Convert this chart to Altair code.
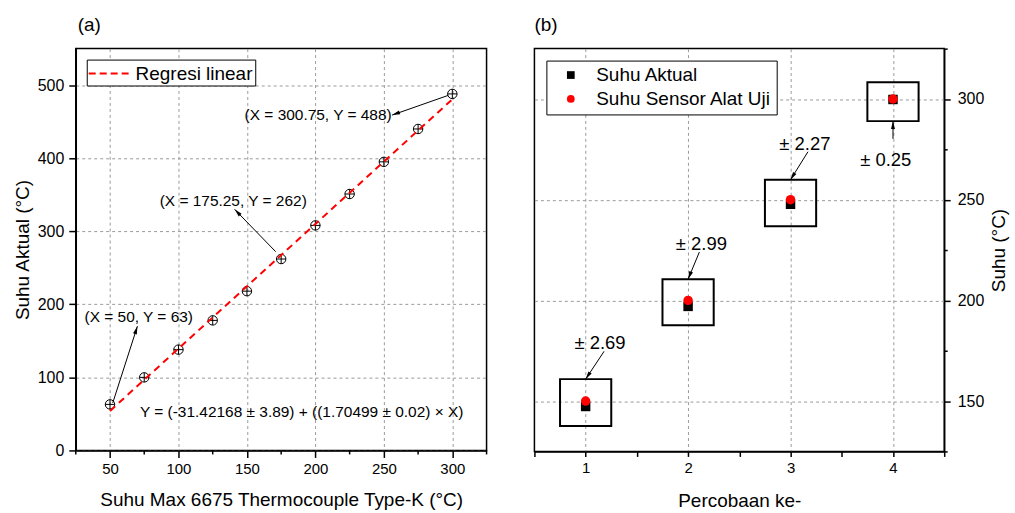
import math
import altair as alt
import pandas as pd

FONT = "Liberation Sans"

# ---------------- Panel (a) data ----------------
max6675 = [50, 75, 100, 125, 150, 175, 200, 225, 250, 275, 300]
aktual = [63, 100, 138, 178, 218, 262, 308, 351, 395, 440, 488]

x_major_a = [50, 100, 150, 200, 250, 300]
x_minor_a = [25, 75, 125, 175, 225, 275, 325]

ann_a_text = ["(X = 50, Y = 63)", "(X = 175.25, Y = 262)", "(X = 300.75, Y = 488)"]
ann_a_tx = [71, 140, 202]
ann_a_ty = [183, 341, 459]
arrow_a_tail_x = [52, 171, 297]
arrow_a_tail_y = [65, 272, 486]
arrow_a_head_x = [70, 141, 256]
arrow_a_head_y = [170, 330, 459]

equation_text = ["Y = (-31.42168 \u00b1 3.89) + ((1.70499 \u00b1 0.02) \u00d7 X)"]
equation_x = [190]
equation_y = [52]

# ---------------- Panel (b) data ----------------
percobaan = [1, 2, 3, 4]
suhu_aktual = [147.31, 197.01, 247.73, 299.75]
suhu_sensor = [150, 200, 250, 300]
selisih = ["\u00b1 2.69", "\u00b1 2.99", "\u00b1 2.27", "\u00b1 0.25"]
box_x_lo = [0.75, 1.75, 2.75, 3.75]
box_x_hi = [1.25, 2.25, 3.25, 4.25]
box_lo = [137.6, 187.6, 236.8, 289.0]
box_hi = [160.9, 210.5, 259.9, 308.3]
label_b_x = [1.14, 2.13, 3.14, 3.93]
label_b_y = [178.7, 228.2, 277.7, 269.8]
arrow_b_tail_x = [1.18, 2.11, 3.17, 4.0]
arrow_b_tail_y = [174.7, 224.0, 273.8, 280.2]
arrow_b_head_x = [1.0, 2.0, 3.0, 4.0]
arrow_b_head_y = [160.9, 210.5, 259.9, 289.0]

# ---------------- layout ----------------
WA, HA = 412, 403
WB, HB = 411, 404
XA_DOM, YA_DOM = [25, 325], [0, 550]
XB_DOM, YB_DOM = [0.5, 4.5], [125, 325]

PLUS_CIRCLE = "M-1,0A1,1,0,1,1,1,0A1,1,0,1,1,-1,0M-1,0L1,0M0,-1L0,1"
ARROW_HEAD = "M0,0L-0.5,2L0.5,2Z"
LEGEND_LINE = "M-2,0L2,0"


def head_angles(tx, ty, hx, hy, sx, sy):
    out = []
    for a, b, c, d in zip(tx, ty, hx, hy):
        out.append((math.degrees(math.atan2((c - a) * sx, (d - b) * sy)) + 360) % 360)
    return out


GRID = dict(gridColor="#9a9a9a", gridDash=[3, 3], gridWidth=1)

# ---------------- Panel (a) ----------------
df_a = pd.DataFrame({"x": max6675, "y": aktual})
xa = alt.Scale(domain=XA_DOM, nice=False, zero=False)
ya = alt.Scale(domain=YA_DOM, nice=False)

x_axis_a = alt.Axis(
    values=x_major_a, format="d",
    tickSize=7, grid=True,
    title="Suhu Max 6675 Thermocouple Type-K (\u00b0C)",
    labelFontSize=15, titleFontSize=19, labelPadding=4, titlePadding=14,
    **GRID,
)
y_axis_a = alt.Axis(
    values=list(range(0, 551, 50)),
    labelExpr="datum.value % 100 === 0 ? datum.label : ''",
    labelOverlap=False,
    tickSize={"condition": {"test": "datum.value % 100 === 0", "value": 7}, "value": 4},
    gridOpacity={"condition": {"test": "datum.value % 100 === 0", "value": 1}, "value": 0},
    title="Suhu Aktual (\u00b0C)",
    labelFontSize=16, titleFontSize=19, labelPadding=5, titlePadding=5,
    **GRID,
)

points_a = alt.Chart(df_a).mark_point(
    shape=PLUS_CIRCLE, filled=False, stroke="black", strokeWidth=1, size=90, opacity=1
).encode(
    x=alt.X("x:Q", scale=xa, axis=x_axis_a),
    y=alt.Y("y:Q", scale=ya, axis=y_axis_a),
)

minor_a = alt.Chart(pd.DataFrame({"m": x_minor_a})).mark_rule(
    color="black", strokeWidth=1.5
).encode(
    x=alt.X("m:Q", scale=xa), y=alt.value(HA), y2=alt.value(HA + 4)
)

fit_a = alt.Chart(df_a).transform_regression(
    "x", "y", extent=[50, 300]
).transform_calculate(
    series="'Regresi linear'"
).mark_line(strokeDash=[7, 5], strokeWidth=2).encode(
    x=alt.X("x:Q", scale=xa),
    y=alt.Y("y:Q", scale=ya),
    color=alt.Color(
        "series:N",
        scale=alt.Scale(domain=["Regresi linear"], range=["#ff0000"]),
        legend=alt.Legend(
            title=None, orient="top-left", offset=11,
            symbolType=LEGEND_LINE, symbolDash=[7, 4], symbolStrokeWidth=2, symbolSize=484,
            symbolOffset=10,
            labelFont=FONT, labelFontSize=19, labelColor="black", labelOffset=13,
            strokeColor="black", fillColor="white", padding=2,
        ),
    ),
)

sxa = WA / (XA_DOM[1] - XA_DOM[0])
sya = HA / (YA_DOM[1] - YA_DOM[0])
df_arr_a = pd.DataFrame({
    "tx": arrow_a_tail_x, "ty": arrow_a_tail_y,
    "hx": arrow_a_head_x, "hy": arrow_a_head_y,
    "ang": head_angles(arrow_a_tail_x, arrow_a_tail_y, arrow_a_head_x, arrow_a_head_y, sxa, sya),
})
rules_a = alt.Chart(df_arr_a).mark_rule(color="black", strokeWidth=1).encode(
    x=alt.X("tx:Q", scale=xa), y=alt.Y("ty:Q", scale=ya), x2="hx:Q", y2="hy:Q"
)
heads_a = alt.Chart(df_arr_a).mark_point(
    shape=ARROW_HEAD, filled=True, color="black", size=64, opacity=1, strokeWidth=0
).encode(
    x=alt.X("hx:Q", scale=xa), y=alt.Y("hy:Q", scale=ya),
    angle=alt.Angle("ang:Q", scale=None),
)

df_ann_a = pd.DataFrame({"t": ann_a_text, "x": ann_a_tx, "y": ann_a_ty})
text_a = alt.Chart(df_ann_a).mark_text(font=FONT, fontSize=15.5, color="black").encode(
    x=alt.X("x:Q", scale=xa), y=alt.Y("y:Q", scale=ya), text="t:N"
)
df_eq = pd.DataFrame({"t": equation_text, "x": equation_x, "y": equation_y})
eq_a = alt.Chart(df_eq).mark_text(font=FONT, fontSize=15.5, color="black").encode(
    x=alt.X("x:Q", scale=xa), y=alt.Y("y:Q", scale=ya), text="t:N"
)
tag_a = alt.Chart(pd.DataFrame({"t": ["(a)"]})).mark_text(
    font=FONT, fontSize=19, color="black", align="left", baseline="middle"
).encode(x=alt.value(2), y=alt.value(-24), text="t:N")

panel_a = alt.layer(
    points_a, fit_a, minor_a, rules_a, heads_a, text_a, eq_a, tag_a
).properties(width=WA, height=HA)

# ---------------- Panel (b) ----------------
xb = alt.Scale(domain=XB_DOM, nice=False, zero=False)
yb = alt.Scale(domain=YB_DOM, nice=False, zero=False)

x_axis_b = alt.Axis(
    values=[0.5, 1, 1.5, 2, 2.5, 3, 3.5, 4, 4.5],
    labelExpr="datum.value % 1 === 0 ? format(datum.value, 'd') : ''",
    labelOverlap=False,
    tickSize=5,
    gridOpacity={"condition": {"test": "datum.value % 1 === 0", "value": 1}, "value": 0},
    title="Percobaan ke-",
    labelFontSize=15, titleFontSize=19, labelPadding=4, titlePadding=16,
    **GRID,
)
y_axis_b = alt.Axis(
    orient="right",
    values=list(range(125, 326, 25)),
    labelExpr="datum.value % 50 === 0 ? datum.label : ''",
    labelOverlap=False,
    tickSize={"condition": {"test": "datum.value % 50 === 0", "value": 6}, "value": 3},
    gridOpacity={"condition": {"test": "datum.value % 50 === 0", "value": 1}, "value": 0},
    title="Suhu (\u00b0C)", titleAngle=270,
    labelFontSize=16, titleFontSize=19, labelPadding=7, titlePadding=25,
    **GRID,
)

df_box = pd.DataFrame({"x": box_x_lo, "x2": box_x_hi, "y": box_lo, "y2": box_hi})
boxes_b = alt.Chart(df_box).mark_rect(
    fillOpacity=0, stroke="black", strokeWidth=2
).encode(
    x=alt.X("x:Q", scale=xb, axis=x_axis_b), x2="x2:Q",
    y=alt.Y("y:Q", scale=yb, axis=y_axis_b), y2="y2:Q",
)

series_names = ["Suhu Aktual", "Suhu Sensor Alat Uji"]
df_pts = pd.DataFrame({
    "x": percobaan + percobaan,
    "y": suhu_aktual + suhu_sensor,
    "series": [series_names[0]] * len(percobaan) + [series_names[1]] * len(percobaan),
    "ord": list(range(2 * len(percobaan))),
})
legend_b = alt.Legend(
    title=None, orient="top-left", offset=12,
    labelFont=FONT, labelFontSize=19, labelColor="black", labelOffset=16, labelLimit=400,
    symbolSize=60, symbolStrokeWidth=0, symbolOffset=10,
    strokeColor="black", fillColor="white", padding=5, rowPadding=4,
)
points_b = alt.Chart(df_pts).mark_point(filled=True, size=90, opacity=1).encode(
    x=alt.X("x:Q", scale=xb),
    y=alt.Y("y:Q", scale=yb),
    color=alt.Color("series:N", scale=alt.Scale(domain=series_names, range=["#000000", "#ff0000"]), legend=legend_b),
    shape=alt.Shape("series:N", scale=alt.Scale(domain=series_names, range=["square", "circle"]), legend=legend_b),
    order=alt.Order("ord:Q"),
)

sxb = WB / (XB_DOM[1] - XB_DOM[0])
syb = HB / (YB_DOM[1] - YB_DOM[0])
df_arr_b = pd.DataFrame({
    "tx": arrow_b_tail_x, "ty": arrow_b_tail_y,
    "hx": arrow_b_head_x, "hy": arrow_b_head_y,
    "ang": head_angles(arrow_b_tail_x, arrow_b_tail_y, arrow_b_head_x, arrow_b_head_y, sxb, syb),
})
rules_b = alt.Chart(df_arr_b).mark_rule(color="black", strokeWidth=1).encode(
    x=alt.X("tx:Q", scale=xb), y=alt.Y("ty:Q", scale=yb), x2="hx:Q", y2="hy:Q"
)
heads_b = alt.Chart(df_arr_b).mark_point(
    shape=ARROW_HEAD, filled=True, color="black", size=64, opacity=1, strokeWidth=0
).encode(
    x=alt.X("hx:Q", scale=xb), y=alt.Y("hy:Q", scale=yb),
    angle=alt.Angle("ang:Q", scale=None),
)
df_lab_b = pd.DataFrame({"t": selisih, "x": label_b_x, "y": label_b_y})
text_b = alt.Chart(df_lab_b).mark_text(font=FONT, fontSize=18.5, color="black").encode(
    x=alt.X("x:Q", scale=xb), y=alt.Y("y:Q", scale=yb), text="t:N"
)
tag_b = alt.Chart(pd.DataFrame({"t": ["(b)"]})).mark_text(
    font=FONT, fontSize=19, color="black", align="left", baseline="middle"
).encode(x=alt.value(0), y=alt.value(-24), text="t:N")

panel_b = alt.layer(
    boxes_b, rules_b, heads_b, points_b, text_b, tag_b
).properties(width=WB, height=HB)

chart = alt.hconcat(panel_a, panel_b, spacing=44).resolve_scale(
    color="independent", shape="independent"
).resolve_legend(
    color="independent", shape="independent"
).properties(
    padding={"left": 12, "top": 14, "right": 5, "bottom": 5},
    background="white",
).configure_view(
    stroke="black", strokeWidth=1.5
).configure_axis(
    domainColor="black", domainWidth=1.5, tickColor="black", tickWidth=1.5,
    labelColor="black", titleColor="black", labelFont=FONT, titleFont=FONT,
    titleFontWeight="normal",
)

chart.save("out.html", embed_options={"renderer": "svg", "actions": False})
